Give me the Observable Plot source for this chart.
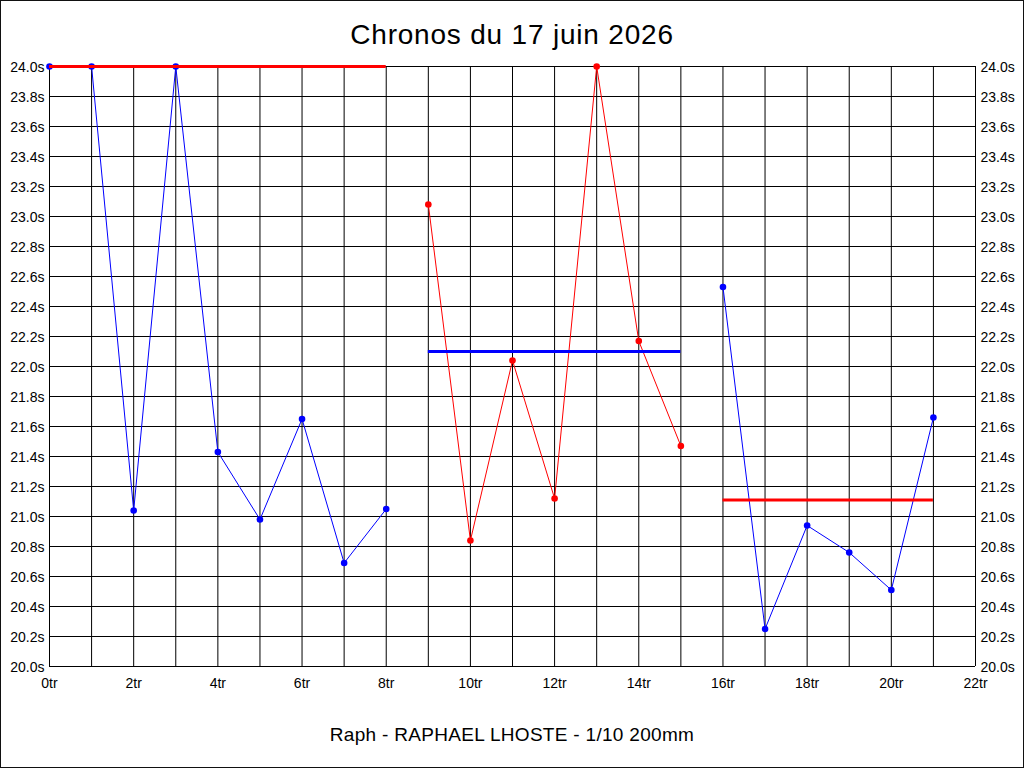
<!DOCTYPE html>
<html>
<head>
<meta charset="utf-8">
<script src="https://cdn.jsdelivr.net/npm/d3@7"></script>
<script src="https://cdn.jsdelivr.net/npm/@observablehq/plot@0.6"></script>
<style>
  html, body { margin: 0; padding: 0; background: #fff; }
  #wrap { position: relative; width: 1024px; height: 768px; overflow: hidden; background: #fff; font-family: "Liberation Sans", Arial, sans-serif; }
  #border { position: absolute; left: 0; top: 0; width: 1024px; height: 768px; box-sizing: border-box; border: 1px solid #111; pointer-events: none; }
  #title { position: absolute; left: 0; top: 0; width: 1024px; height: 50px; line-height: 70px; text-align: center; font-size: 28px; letter-spacing: 0.8px; color: #000; }
  #chart { position: absolute; left: 0; top: 50px; }
  #caption { position: absolute; left: 0; top: 710px; width: 1024px; height: 50px; line-height: 50px; text-align: center; font-size: 19px; letter-spacing: 0.3px; color: #000; }
</style>
</head>
<body>
<div id="wrap">
  <div id="title"></div>
  <div id="chart"></div>
  <div id="caption"></div>
  <div id="border"></div>
</div>
<script>
const titleText = "Chronos du 17 juin 2026";
const captionText = "Raph - RAPHAEL LHOSTE - 1/10 200mm";

// Series A (blue, turns 0-8)
const turnsA = [0, 1, 2, 3, 4, 5, 6, 7, 8];
const timesA = [24.0, 24.0, 21.04, 24.0, 21.43, 20.98, 21.65, 20.69, 21.05];
const avgA = 24.0;
// Series B (red, turns 9-15)
const turnsB = [9, 10, 11, 12, 13, 14, 15];
const timesB = [23.08, 20.84, 22.04, 21.12, 24.0, 22.17, 21.47];
const avgB = 22.10;
// Series C (blue, turns 16-21)
const turnsC = [16, 17, 18, 19, 20, 21];
const timesC = [22.53, 20.25, 20.94, 20.76, 20.51, 21.66];
const avgC = 21.11;

const xTicks = [0, 2, 4, 6, 8, 10, 12, 14, 16, 18, 20, 22];
const xGrid = d3.range(0, 23, 1);
const yTicks = [20.0, 20.2, 20.4, 20.6, 20.8, 21.0, 21.2, 21.4, 21.6, 21.8, 22.0, 22.2, 22.4, 22.6, 22.8, 23.0, 23.2, 23.4, 23.6, 23.8, 24.0];

const BLUE = "#0000ff", RED = "#ff0000";

const series = [
  {turns: turnsA, times: timesA, avg: avgA, color: BLUE, avgColor: RED},
  {turns: turnsB, times: timesB, avg: avgB, color: RED, avgColor: BLUE},
  {turns: turnsC, times: timesC, avg: avgC, color: BLUE, avgColor: RED}
];

const marks = [
  Plot.gridX(xGrid, {stroke: "#000", strokeOpacity: 1, strokeWidth: 1}),
  Plot.gridY(yTicks, {stroke: "#000", strokeOpacity: 1, strokeWidth: 1}),
  Plot.axisY(yTicks, {anchor: "left", label: null, tickSize: 0, tickPadding: 5, tickFormat: d => d.toFixed(1) + "s", dy: 1}),
  Plot.axisY(yTicks, {anchor: "right", label: null, tickSize: 0, tickPadding: 5, tickFormat: d => d.toFixed(1) + "s", dy: 1}),
  Plot.axisX(xTicks, {anchor: "bottom", label: null, tickSize: 0, tickPadding: 12, tickFormat: d => d + "tr"})
];

for (const s of series) {
  const rows = s.turns.map((t, i) => ({turn: t, time: s.times[i]}));
  marks.push(Plot.line(rows, {x: "turn", y: "time", stroke: s.color, strokeWidth: 1}));
  marks.push(Plot.dot(rows, {x: "turn", y: "time", fill: s.color, r: 3.3}));
  marks.push(Plot.ruleY([s.avg], {x1: s.turns[0], x2: s.turns[s.turns.length - 1], stroke: s.avgColor, strokeWidth: 3}));
}

const chart = Plot.plot({
  width: 1024,
  height: 660,
  marginLeft: 49,
  marginRight: 49,
  marginTop: 16,
  marginBottom: 44,
  style: {fontFamily: "'Liberation Sans', Arial, sans-serif", fontSize: "14px", color: "#000", background: "transparent"},
  x: {domain: [0, 22], label: null},
  y: {domain: [20, 24], label: null},
  marks
});

document.getElementById("title").textContent = titleText;
document.getElementById("caption").textContent = captionText;
document.getElementById("chart").appendChild(chart);
</script>
</body>
</html>
